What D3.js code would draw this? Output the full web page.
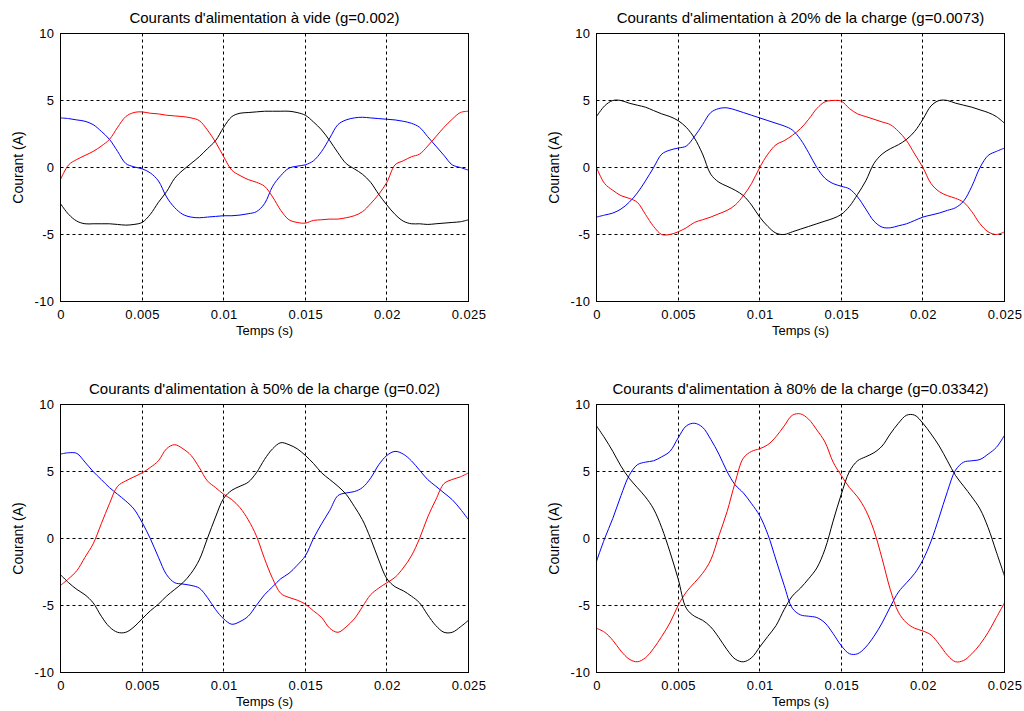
<!DOCTYPE html>
<html>
<head>
<meta charset="utf-8">
<script src="https://cdn.jsdelivr.net/npm/d3@7"></script>
<style>
  html, body { margin: 0; padding: 0; background: #fff; }
  svg { display: block; }
  text { font-family: "Liberation Sans", Arial, sans-serif; fill: #000; }
</style>
</head>
<body>
<svg id="chart" width="1024" height="711"></svg>
<script>
// Sampling instants (s)
const temps = [0, 0.0005, 0.001, 0.0015, 0.002, 0.0025, 0.003, 0.0035, 0.004, 0.0045,
  0.005, 0.0055, 0.006, 0.0065, 0.007, 0.0075, 0.008, 0.0085, 0.009, 0.0095,
  0.01, 0.0105, 0.011, 0.0115, 0.012, 0.0125, 0.013, 0.0135, 0.014, 0.0145,
  0.015, 0.0155, 0.016, 0.0165, 0.017, 0.0175, 0.018, 0.0185, 0.019, 0.0195,
  0.02, 0.0205, 0.021, 0.0215, 0.022, 0.0225, 0.023, 0.0235, 0.024, 0.0245, 0.025];

// Tick values
const xTicks = [0, 0.005, 0.01, 0.015, 0.02, 0.025];
const xTickLabels = ["0", "0.005", "0.01", "0.015", "0.02", "0.025"];
const yTicks = [-10, -5, 0, 5, 10];
const yTickLabels = ["-10", "-5", "0", "5", "10"];

const titres = [
  "Courants d'alimentation à vide (g=0.002)",
  "Courants d'alimentation à 20% de la charge (g=0.0073)",
  "Courants d'alimentation à 50% de la charge (g=0.02)",
  "Courants d'alimentation à 80% de la charge (g=0.03342)"
];

// Phase currents (A) – no load
const videBleu = [3.7, 3.65, 3.55, 3.45, 3.2, 2.7, 2.1, 1.2, 0.3, 0.05,
  -0.1, -0.4, -1.0, -2.2, -3.0, -3.5, -3.7, -3.75, -3.7, -3.65,
  -3.6, -3.6, -3.55, -3.45, -3.3, -2.7, -1.4, -0.6, -0.05, 0.1,
  0.2, 0.5, 1.2, 2.2, 3.2, 3.55, 3.7, 3.75, 3.7, 3.65,
  3.6, 3.55, 3.45, 3.3, 3.0, 2.3, 1.6, 0.9, 0.2, 0.0, -0.2];
const videRouge = [-0.9, 0.2, 0.6, 0.9, 1.2, 1.6, 2.1, 3.0, 3.8, 4.1,
  4.15, 4.05, 4.0, 3.9, 3.85, 3.8, 3.7, 3.5, 2.8, 1.9,
  0.8, -0.2, -0.6, -0.9, -1.1, -1.4, -2.2, -3.2, -3.9, -4.1,
  -4.15, -3.95, -3.9, -3.85, -3.85, -3.75, -3.6, -3.3, -2.7, -2.0,
  -1.1, 0.2, 0.5, 0.8, 1.0, 1.6, 2.3, 3.0, 3.6, 4.1, 4.2];
const videNoir = [-2.7, -3.5, -4.0, -4.2, -4.2, -4.2, -4.2, -4.25, -4.3, -4.25,
  -4.1, -3.5, -2.6, -1.8, -0.8, -0.2, 0.3, 0.8, 1.4, 2.0,
  3.0, 3.8, 4.05, 4.1, 4.15, 4.2, 4.2, 4.2, 4.2, 4.1,
  3.9, 3.4, 2.8, 2.0, 1.1, 0.3, -0.1, -0.5, -1.1, -2.0,
  -2.8, -3.5, -4.0, -4.2, -4.2, -4.25, -4.2, -4.15, -4.1, -4.05, -3.9];

// 20 % load
const c20Bleu = [-3.7, -3.55, -3.4, -3.1, -2.6, -1.9, -1.0, 0.0, 1.0, 1.3,
  1.45, 1.6, 2.3, 3.2, 4.1, 4.4, 4.45, 4.3, 4.1, 3.9,
  3.7, 3.5, 3.3, 3.1, 2.8, 2.1, 1.1, 0.0, -0.8, -1.2,
  -1.4, -1.6, -2.2, -3.1, -4.0, -4.45, -4.5, -4.35, -4.2, -3.95,
  -3.7, -3.55, -3.4, -3.2, -3.0, -2.5, -1.4, 0.0, 0.9, 1.2, 1.45];
const c20Rouge = [0.0, -1.2, -1.7, -2.1, -2.3, -2.6, -3.5, -4.4, -5.0, -5.0,
  -4.8, -4.5, -4.1, -3.9, -3.7, -3.45, -3.2, -2.8, -2.1, -1.2,
  0.0, 1.0, 1.7, 2.0, 2.4, 2.9, 3.6, 4.4, 4.9, 5.0,
  4.95, 4.4, 4.0, 3.8, 3.6, 3.4, 3.2, 2.7, 2.0, 1.0,
  0.0, -1.2, -1.8, -2.1, -2.3, -2.6, -3.3, -4.2, -4.8, -5.0, -4.8];
const c20Noir = [3.8, 4.6, 5.0, 5.0, 4.8, 4.65, 4.5, 4.25, 4.0, 3.8,
  3.5, 3.0, 2.2, 1.0, -0.5, -1.1, -1.4, -1.7, -2.1, -2.8,
  -3.7, -4.4, -4.9, -5.0, -4.8, -4.6, -4.4, -4.2, -4.0, -3.8,
  -3.5, -2.9, -2.0, -1.0, 0.3, 1.0, 1.4, 1.7, 2.1, 2.7,
  3.6, 4.6, 5.0, 5.0, 4.8, 4.65, 4.5, 4.3, 4.1, 3.8, 3.3];

// 50 % load
const c50Bleu = [6.3, 6.4, 6.35, 5.7, 5.0, 4.4, 3.8, 3.3, 2.8, 2.2,
  1.2, 0.0, -1.4, -2.7, -3.3, -3.4, -3.5, -3.7, -4.4, -5.3,
  -6.0, -6.4, -6.2, -5.8, -5.0, -4.2, -3.6, -3.0, -2.6, -2.0,
  -1.3, 0.0, 1.1, 2.1, 3.2, 3.4, 3.5, 3.8, 4.5, 5.5,
  6.2, 6.5, 6.3, 5.8, 5.1, 4.4, 3.9, 3.4, 2.9, 2.2, 1.4];
const c50Rouge = [-3.5, -3.0, -2.4, -1.4, -0.4, 1.1, 2.6, 3.9, 4.3, 4.6,
  4.9, 5.3, 5.8, 6.7, 7.0, 6.7, 6.2, 5.3, 4.3, 3.8,
  3.3, 2.9, 2.3, 1.4, 0.2, -1.5, -3.0, -4.1, -4.4, -4.6,
  -4.9, -5.4, -5.9, -6.7, -7.0, -6.6, -6.0, -5.1, -4.2, -3.7,
  -3.3, -2.9, -2.2, -1.3, 0.0, 1.6, 2.9, 4.1, 4.4, 4.6, 4.9];
const c50Noir = [-2.7, -3.3, -3.8, -4.2, -4.8, -5.8, -6.6, -7.0, -7.0, -6.6,
  -6.0, -5.4, -4.9, -4.3, -3.8, -3.3, -2.6, -1.6, 0.0, 1.6,
  3.0, 3.6, 3.9, 4.2, 4.9, 5.9, 6.7, 7.15, 7.0, 6.7,
  6.2, 5.6, 4.9, 4.4, 3.9, 3.3, 2.4, 1.4, 0.0, -1.6,
  -3.0, -3.6, -3.9, -4.3, -4.8, -5.7, -6.5, -7.0, -7.0, -6.6, -6.1];

// 80 % load
const c80Bleu = [-1.7, 0.0, 1.5, 3.2, 4.7, 5.5, 5.7, 5.8, 6.1, 6.5,
  7.5, 8.4, 8.6, 8.3, 7.4, 6.3, 5.0, 4.0, 3.4, 2.6,
  1.7, 0.3, -1.6, -3.5, -5.2, -5.7, -5.8, -5.9, -6.3, -7.1,
  -8.0, -8.6, -8.6, -8.1, -7.3, -6.3, -5.1, -4.0, -3.3, -2.6,
  -1.6, -0.2, 1.6, 3.5, 5.1, 5.7, 5.8, 5.9, 6.3, 6.8, 7.7];
const c80Rouge = [-6.7, -7.0, -7.6, -8.4, -9.0, -9.2, -8.9, -8.2, -7.3, -6.3,
  -5.0, -4.0, -3.3, -2.6, -1.6, 0.2, 2.0, 4.2, 6.0, 6.5,
  6.7, 7.0, 7.6, 8.4, 9.2, 9.3, 8.9, 8.1, 7.2, 5.7,
  4.7, 3.8, 3.1, 2.1, 0.6, -1.5, -3.8, -5.5, -6.3, -6.7,
  -6.9, -7.2, -7.9, -8.7, -9.2, -9.1, -8.6, -7.9, -7.0, -5.9, -4.8];
const c80Noir = [8.4, 7.5, 6.5, 5.4, 4.5, 3.8, 3.1, 2.2, 0.8, -1.0,
  -3.0, -5.2, -5.8, -6.1, -6.6, -7.4, -8.3, -9.0, -9.2, -8.9,
  -8.1, -7.3, -6.5, -5.3, -4.3, -3.7, -3.0, -2.2, -0.8, 1.3,
  3.3, 5.0, 5.8, 6.1, 6.4, 6.9, 7.8, 8.6, 9.2, 9.2,
  8.6, 7.8, 6.9, 5.8, 4.7, 3.9, 3.1, 2.2, 0.8, -1.0, -2.8];

const couleurs = ["#0000ff", "#ff0000", "#000000"];

const panneaux = [
  { titre: titres[0], series: [videBleu, videRouge, videNoir], x0: 60, y0: 33 },
  { titre: titres[1], series: [c20Bleu, c20Rouge, c20Noir], x0: 596, y0: 33 },
  { titre: titres[2], series: [c50Bleu, c50Rouge, c50Noir], x0: 60, y0: 404 },
  { titre: titres[3], series: [c80Bleu, c80Rouge, c80Noir], x0: 596, y0: 404 }
];

const W = 408, H = 268;
const svg = d3.select("#chart");

panneaux.forEach(p => {
  const g = svg.append("g").attr("transform", `translate(${p.x0 + 0.5},${p.y0 + 0.5})`);
  const x = d3.scaleLinear().domain([0, 0.025]).range([0, W]);
  const y = d3.scaleLinear().domain([-10, 10]).range([H, 0]);

  // dashed grid
  g.append("g").selectAll("line")
    .data(xTicks.slice(1, -1)).join("line")
    .attr("x1", d => Math.round(x(d))).attr("x2", d => Math.round(x(d)))
    .attr("y1", 0).attr("y2", H)
    .attr("stroke", "#000").attr("stroke-width", 1).attr("stroke-dasharray", "3,3");
  g.append("g").selectAll("line")
    .data(yTicks.slice(1, -1)).join("line")
    .attr("x1", 0).attr("x2", W)
    .attr("y1", d => Math.round(y(d))).attr("y2", d => Math.round(y(d)))
    .attr("stroke", "#000").attr("stroke-width", 1).attr("stroke-dasharray", "3,3");

  // traces
  const line = d3.line()
    .x((d, i) => x(temps[i]))
    .y(d => y(d))
    .curve(d3.curveCatmullRom.alpha(0.5));
  p.series.forEach((s, k) => {
    g.append("path").datum(s)
      .attr("d", line)
      .attr("fill", "none")
      .attr("stroke", couleurs[k])
      .attr("stroke-width", 1);
  });

  // frame
  g.append("rect").attr("x", 0).attr("y", 0).attr("width", W).attr("height", H)
    .attr("fill", "none").attr("stroke", "#000").attr("stroke-width", 1);

  // axes
  const ax = d3.axisBottom(x).tickValues(xTicks)
    .tickFormat((d, i) => xTickLabels[i]).tickSize(0).tickPadding(8);
  const axG = g.append("g").attr("transform", `translate(0,${H})`).call(ax);
  axG.select(".domain").remove();
  axG.selectAll("text").attr("font-size", 13).attr("letter-spacing", 0.4)
    .attr("font-family", "Liberation Sans, Arial, sans-serif");

  const ay = d3.axisLeft(y).tickValues(yTicks)
    .tickFormat((d, i) => yTickLabels[i]).tickSize(0).tickPadding(6);
  const ayG = g.append("g").call(ay);
  ayG.select(".domain").remove();
  ayG.selectAll("text").attr("font-size", 13).attr("letter-spacing", 0.4)
    .attr("font-family", "Liberation Sans, Arial, sans-serif");

  // labels
  g.append("text").attr("x", W / 2).attr("y", -10.5)
    .attr("text-anchor", "middle").attr("font-size", 15).text(p.titre);
  g.append("text").attr("x", W / 2).attr("y", H + 33)
    .attr("text-anchor", "middle").attr("font-size", 13).text("Temps (s)");
  g.append("text")
    .attr("transform", `translate(-38,${H / 2}) rotate(-90)`)
    .attr("text-anchor", "middle").attr("font-size", 14).text("Courant (A)");
});
</script>
</body>
</html>
